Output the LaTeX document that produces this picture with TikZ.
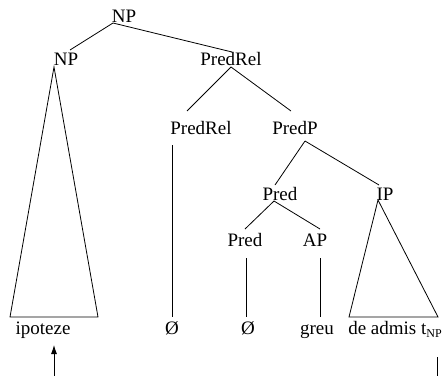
\documentclass[tikz,border=0pt]{standalone}
\usepackage{fontspec}
\setmainfont{Liberation Serif}
\usetikzlibrary{arrows.meta}
\begin{document}
\begin{tikzpicture}[x=1pt,y=-1pt,
  lab/.style={anchor=base,inner sep=0pt,font=\fontsize{19}{22}\selectfont,text=black},
  edge/.style={draw=black,line width=0.8pt},
  tri/.style={draw=black,line width=0.8pt,line join=miter}]
\useasboundingbox (0,0) rectangle (443,375);
% labels
\node[lab] (np0) at (124,22) {NP};
\node[lab] (np1) at (66,65) {NP};
\node[lab] (pr1) at (231,65) {PredRel};
\node[lab] (pr2) at (201,134) {PredRel};
\node[lab] (pp) at (295,134) {PredP};
\node[lab] (pd1) at (280,200) {Pred};
\node[lab] (ip) at (385,200) {IP};
\node[lab] (pd2) at (245,246) {Pred};
\node[lab] (ap) at (315,246) {AP};
\node[lab] (l1) at (43,334) {ipoteze};
\node[lab] (l2) at (172,334) {Ø};
\node[lab] (l3) at (248,334) {Ø};
\node[lab] (l4) at (317,334) {greu};
\node[lab] (l5) at (395,334) {de admis t\raisebox{-3pt}{\fontsize{12}{12}\selectfont NP}};
% line end points
\coordinate (np0b) at (113,23);
\coordinate (np1t) at (70,50);
\coordinate (pr1t) at (232,52);
\coordinate (pr1b) at (231,67);
\coordinate (pr2t) at (187,111);
\coordinate (pr2b) at (172,145);
\coordinate (pr2e) at (172,317);
\coordinate (ppt) at (291,111);
\coordinate (ppb) at (305,141);
\coordinate (pd1t) at (275,185);
\coordinate (pd1b) at (274,201);
\coordinate (ipt) at (379,185);
\coordinate (ipb) at (378,200);
\coordinate (pd2t) at (245,229);
\coordinate (pd2b) at (246,258);
\coordinate (pd2e) at (246,317);
\coordinate (apt) at (320,229);
\coordinate (apb) at (320,258);
\coordinate (ape) at (320,317);
\coordinate (np1b) at (54,67);
\coordinate (np1l) at (10,317);
\coordinate (np1r) at (98,317);
\coordinate (ipl) at (349,317);
\coordinate (ipr) at (438,317);
\coordinate (arrs) at (54,376);
\coordinate (arrt) at (54,345);
\coordinate (tnp) at (437,357);
\coordinate (tnpe) at (437,376);
% edges
\draw[edge] (np0b) -- (np1t);
\draw[edge] (np0b) -- (pr1t);
\draw[edge] (pr1b) -- (pr2t);
\draw[edge] (pr1b) -- (ppt);
\draw[edge] (pr2b) -- (pr2e);
\draw[edge] (ppb) -- (pd1t);
\draw[edge] (ppb) -- (ipt);
\draw[edge] (pd1b) -- (pd2t);
\draw[edge] (pd1b) -- (apt);
\draw[edge] (pd2b) -- (pd2e);
\draw[edge] (apb) -- (ape);
\draw[tri] (np1b) -- (np1l) -- (np1r) -- cycle;
\draw[tri] (ipb) -- (ipl) -- (ipr) -- cycle;
\draw[edge,-{Latex[length=9pt,width=6pt]}] (arrs) -- (arrt);
\draw[edge] (tnp) -- (tnpe);
\end{tikzpicture}
\end{document}
